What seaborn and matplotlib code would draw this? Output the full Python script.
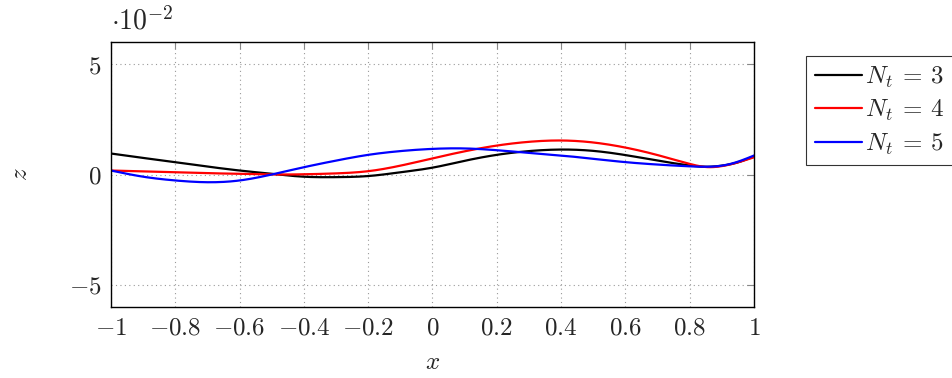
import numpy as np
import pandas as pd
import matplotlib
matplotlib.use("Agg")
import matplotlib.pyplot as plt
import seaborn as sns

x_vals = [-1.0, -0.9, -0.8, -0.7, -0.6, -0.5, -0.4, -0.3, -0.2, -0.1, 0.0, 0.1, 0.2, 0.3, 0.4, 0.5, 0.6, 0.7, 0.8, 0.85, 0.9, 0.95, 1.0]
z_nt3 = [0.95, 0.75, 0.56, 0.36, 0.18, 0.03, -0.10, -0.12, -0.07, 0.10, 0.31, 0.62, 0.89, 1.06, 1.13, 1.07, 0.88, 0.63, 0.41, 0.35, 0.40, 0.55, 0.82]
z_nt4 = [0.18, 0.14, 0.10, 0.06, 0.03, 0.00, 0.01, 0.05, 0.15, 0.40, 0.73, 1.05, 1.31, 1.48, 1.54, 1.45, 1.22, 0.88, 0.48, 0.34, 0.38, 0.55, 0.78]
z_nt5 = [0.18, -0.10, -0.27, -0.35, -0.27, 0.00, 0.33, 0.63, 0.89, 1.06, 1.16, 1.18, 1.10, 0.98, 0.86, 0.71, 0.56, 0.45, 0.37, 0.35, 0.40, 0.58, 0.86]
series_labels = [r"$N_t\:=\:3$", r"$N_t\:=\:4$", r"$N_t\:=\:5$"]
series_colors = ["black", "red", "blue"]
x_ticks = [-1, -0.8, -0.6, -0.4, -0.2, 0, 0.2, 0.4, 0.6, 0.8, 1]
y_ticks = [-5, 0, 5]

sns.set_theme(style="white")
plt.rcParams["mathtext.fontset"] = "cm"
plt.rcParams["font.family"] = ["DejaVu Serif"]

# smooth curves via natural cubic spline through read points
def spline(xs, ys, n=400):
    xs = np.asarray(xs); ys = np.asarray(ys)
    nn = len(xs)
    h = np.diff(xs)
    A = np.zeros((nn, nn)); b = np.zeros(nn)
    A[0, 0] = 1; A[-1, -1] = 1
    for i in range(1, nn - 1):
        A[i, i - 1] = h[i - 1]
        A[i, i] = 2 * (h[i - 1] + h[i])
        A[i, i + 1] = h[i]
        b[i] = 3 * ((ys[i + 1] - ys[i]) / h[i] - (ys[i] - ys[i - 1]) / h[i - 1])
    c = np.linalg.solve(A, b)
    xf = np.linspace(xs[0], xs[-1], n)
    idx = np.clip(np.searchsorted(xs, xf) - 1, 0, nn - 2)
    dx = xf - xs[idx]
    bb = (ys[1:] - ys[:-1]) / h - h * (2 * c[:-1] + c[1:]) / 3
    dd = (c[1:] - c[:-1]) / (3 * h)
    yf = ys[idx] + bb[idx] * dx + c[idx] * dx ** 2 + dd[idx] * dx ** 3
    return xf, yf

frames = []
for lab, ys in zip(series_labels, [z_nt3, z_nt4, z_nt5]):
    xf, yf = spline(x_vals, ys)
    frames.append(pd.DataFrame({"x": xf, "z": yf, "series": lab}))
df = pd.concat(frames, ignore_index=True)

fig = plt.figure(figsize=(9.53, 3.78), dpi=100)
ax = fig.add_axes([111 / 953, 1 - 307 / 378, (754 - 111) / 953, (307 - 42) / 378])

sns.lineplot(data=df, x="x", y="z", hue="series", hue_order=series_labels,
             palette=series_colors, linewidth=1.6, ax=ax, legend=True, sort=False)

ax.set_xlim(-1, 1)
ax.set_ylim(-6, 6)
ax.set_xticks(x_ticks)
ax.set_yticks(y_ticks)
def fmt(v):
    return "$" + ("%g" % v) + "$"
ax.set_xticklabels([fmt(v) for v in x_ticks], fontsize=18)
ax.set_yticklabels([fmt(v) for v in y_ticks], fontsize=18)
ax.tick_params(direction="in", length=5, width=0.8, color="#888888", top=True, right=True, pad=7)
ax.grid(True, linestyle=(0, (1, 3)), color="#999999", linewidth=0.8)
for s in ax.spines.values():
    s.set_color("black")
    s.set_linewidth(1.0)
ax.set_xlabel(r"$x$", fontsize=18, labelpad=8)
ax.set_ylabel(r"$z$", fontsize=18, labelpad=26)
ax.text(0.0, 1.025, r"$\cdot 10^{-2}$", transform=ax.transAxes, fontsize=20, ha="left", va="bottom")

handles, labels = ax.get_legend_handles_labels()
leg = ax.legend(handles, labels, loc="upper left", bbox_to_anchor=(806 / 953, 1 - 56 / 378),
                bbox_transform=fig.transFigure, fontsize=18, frameon=True, fancybox=False,
                edgecolor="black", borderpad=0.35, labelspacing=0.32, handlelength=1.9,
                handletextpad=0.1, borderaxespad=0)
leg.get_frame().set_linewidth(0.8)

fig.savefig("out.png", dpi=100)
